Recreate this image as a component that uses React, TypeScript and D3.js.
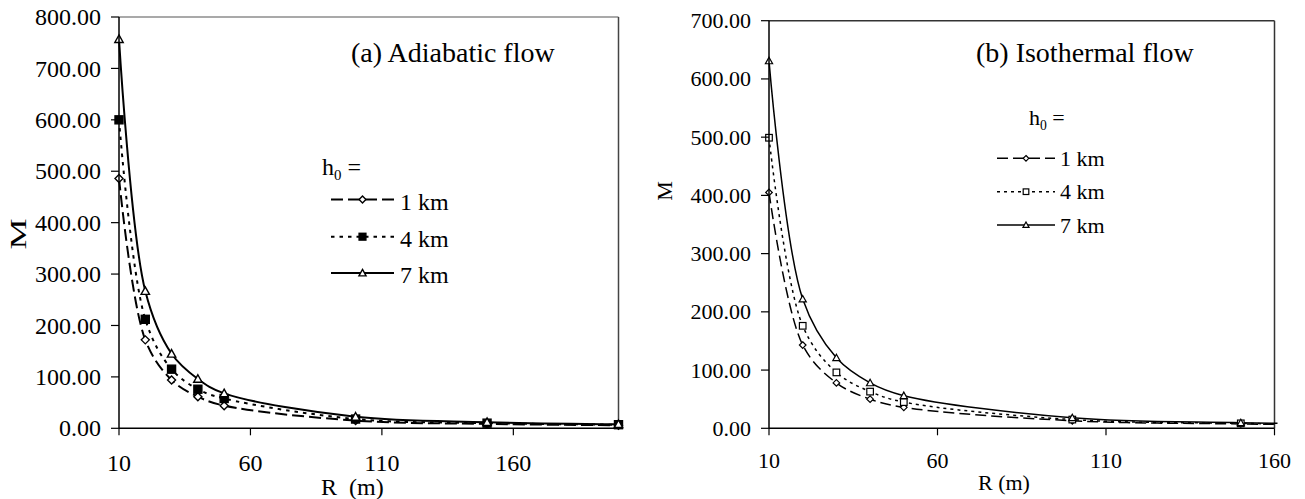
import React from 'react';
import * as d3 from 'd3';

// Radius values (m) at which M was evaluated
const radius = [10, 20, 30, 40, 50, 100, 150, 200];
const seriesLabels = ['1 km', '4 km', '7 km'];

// (a) Adiabatic flow
const adiabatic1km = [486, 172, 94, 61.5, 44, 15, 8.5, 6];
const adiabatic4km = [600, 212, 115, 76, 58, 18, 10, 7];
const adiabatic7km = [757, 267, 145, 96, 68, 22.5, 12, 8];

// (b) Isothermal flow
const isothermal1km = [405, 143, 78, 50, 36, 13, 7.5, 5];
const isothermal4km = [499, 176, 96, 63, 45, 15, 8.5, 5.5];
const isothermal7km = [631, 222, 121, 78, 56, 18, 9.5, 6];

const xTicks = [10, 60, 110, 160];
const adiabaticYTicks = [0, 100, 200, 300, 400, 500, 600, 700, 800];
const isothermalYTicks = [0, 100, 200, 300, 400, 500, 600, 700];

const FONT = "'Liberation Serif', 'Times New Roman', serif";
const fmt = d3.format('.2f');

type Shape = 'diamond' | 'square' | 'triangle';

function Marker({ shape, x, y, s, fill, sw }: { shape: Shape; x: number; y: number; s: number; fill: string; sw: number }) {
  if (shape === 'diamond') {
    return <polygon points={`${x},${y - s} ${x + s},${y} ${x},${y + s} ${x - s},${y}`} fill={fill} stroke="#000" strokeWidth={sw} />;
  }
  if (shape === 'square') {
    return <rect x={x - s} y={y - s} width={2 * s} height={2 * s} fill={fill} stroke="#000" strokeWidth={sw} />;
  }
  return <polygon points={`${x},${y - s} ${x + s},${y + s * 0.8} ${x - s},${y + s * 0.8}`} fill={fill} stroke="#000" strokeWidth={sw} />;
}

type SeriesStyle = { values: number[]; dash: string; shape: Shape; fill: string; size: number };

type PanelProps = {
  id: string;
  left: number; right: number; top: number; bottom: number;
  xMax: number; yMax: number; yTicks: number[];
  series: SeriesStyle[];
  tickFont: number; legendFont: number;
  title: string; titleX: number; titleY: number;
  yLabelX: number; yLabelY: number; yLabelStretch: number;
  xLabel: string; xLabelX: number; xLabelY: number;
  xTickY: number;
  legend: { hx: number; hy: number; lx0: number; lx1: number; tx: number; rows: number[]; baseOff: number };
  lineWidth: number; markerStroke: number;
  topBorder: string; rightBorder: string;
};

function Panel(p: PanelProps) {
  const x = d3.scaleLinear().domain([10, p.xMax]).range([p.left, p.right]);
  const y = d3.scaleLinear().domain([0, p.yMax]).range([p.bottom, p.top]);
  const line = d3.line<[number, number]>()
    .x(d => x(d[0]))
    .y(d => y(d[1]))
    .curve(d3.curveCatmullRom.alpha(0.5));
  const clipId = `clip-${p.id}`;
  const lx = (p.legend.lx0 + p.legend.lx1) / 2;
  return (
    <g fontFamily={FONT} fill="#000">
      <defs>
        <clipPath id={clipId}>
          <rect x={p.left - 10} y={p.top - 10} width={p.right - p.left + 13} height={p.bottom - p.top + 20} />
        </clipPath>
      </defs>
      {/* plot frame */}
      <line x1={p.left} x2={p.right} y1={p.top} y2={p.top} stroke={p.topBorder} strokeWidth={1.5} />
      <line x1={p.right} x2={p.right} y1={p.top} y2={p.bottom} stroke={p.rightBorder} strokeWidth={1.5} />
      {/* series */}
      <g clipPath={`url(#${clipId})`}>
        {p.series.map((s, i) => (
          <path key={i} d={line(radius.map((r, j) => [r, s.values[j]] as [number, number])) || ''}
            fill="none" stroke="#000" strokeWidth={p.lineWidth} strokeDasharray={s.dash} />
        ))}
      </g>
      {p.series.map((s, i) =>
        radius.map((r, j) => r <= p.xMax ? (
          <Marker key={`${i}-${j}`} shape={s.shape} x={x(r)} y={y(s.values[j])} s={s.size} fill={s.fill} sw={p.markerStroke} />
        ) : null)
      )}
      {/* axes */}
      <line x1={p.left} x2={p.left} y1={p.top} y2={p.bottom} stroke="#000" strokeWidth={1.5} />
      <line x1={p.left} x2={p.right} y1={p.bottom} y2={p.bottom} stroke="#000" strokeWidth={1.5} />
      {p.yTicks.map(t => (
        <g key={t}>
          <line x1={p.left - 8} x2={p.left} y1={y(t)} y2={y(t)} stroke="#000" strokeWidth={1.2} />
          <text x={p.left - 18} y={y(t)} dy="0.34em" textAnchor="end" fontSize={p.tickFont}>{fmt(t)}</text>
        </g>
      ))}
      {xTicks.filter(t => t <= p.xMax).map(t => (
        <g key={t}>
          <line x1={x(t)} x2={x(t)} y1={p.bottom} y2={p.bottom + 7} stroke="#000" strokeWidth={1.2} />
          <text x={x(t)} y={p.xTickY} textAnchor="middle" fontSize={p.tickFont}>{t}</text>
        </g>
      ))}
      {/* axis titles */}
      <text transform={`translate(${p.yLabelX},${p.yLabelY}) rotate(-90) scale(${p.yLabelStretch},1)`}
        textAnchor="middle" dy="0.35em" fontSize={p.tickFont}>M</text>
      <text x={p.xLabelX} y={p.xLabelY} fontSize={p.tickFont} style={{ whiteSpace: 'pre' }}>{p.xLabel}</text>
      {/* panel title */}
      <text x={p.titleX} y={p.titleY} fontSize={28}>{p.title}</text>
      {/* legend */}
      <text x={p.legend.hx} y={p.legend.hy} fontSize={p.legendFont}>
        h<tspan dy={5} fontSize={p.legendFont * 0.62}>0</tspan><tspan dy={-5}> =</tspan>
      </text>
      {p.series.map((s, i) => {
        const ry = p.legend.rows[i];
        return (
          <g key={i}>
            <line x1={p.legend.lx0} x2={p.legend.lx1} y1={ry} y2={ry} stroke="#000" strokeWidth={p.lineWidth} strokeDasharray={s.dash} />
            <Marker shape={s.shape} x={lx} y={ry} s={s.size * 0.85} fill={s.fill} sw={p.markerStroke} />
            <text x={p.legend.tx} y={ry + p.legend.baseOff} fontSize={p.legendFont}>{seriesLabels[i]}</text>
          </g>
        );
      })}
    </g>
  );
}

export default function App() {
  const adiabaticSeries: SeriesStyle[] = [
    { values: adiabatic1km, dash: '12,5', shape: 'diamond', fill: '#fff', size: 4 },
    { values: adiabatic4km, dash: '3.5,5', shape: 'square', fill: '#000', size: 4 },
    { values: adiabatic7km, dash: '', shape: 'triangle', fill: '#fff', size: 4.2 },
  ];
  const isothermalSeries: SeriesStyle[] = [
    { values: isothermal1km, dash: '11,5', shape: 'diamond', fill: '#fff', size: 3.3 },
    { values: isothermal4km, dash: '3,4', shape: 'square', fill: '#fff', size: 3.3 },
    { values: isothermal7km, dash: '', shape: 'triangle', fill: '#fff', size: 3.6 },
  ];
  return (
    <svg width={1305} height={499} style={{ position: 'absolute', left: 0, top: 0, background: '#fff' }}>
      <rect width={1305} height={499} fill="#fff" />
      <Panel
        id="a" left={119} right={618.5} top={17} bottom={428.3}
        xMax={200} yMax={800} yTicks={adiabaticYTicks}
        series={adiabaticSeries} tickFont={24} legendFont={24}
        title="(a) Adiabatic flow" titleX={351} titleY={62}
        yLabelX={18} yLabelY={234} yLabelStretch={1.45}
        xLabel="R  (m)" xLabelX={321} xLabelY={495} xTickY={471}
        legend={{ hx: 322, hy: 175, lx0: 331, lx1: 394, tx: 400, rows: [199.5, 236.7, 273], baseOff: 10 }}
        lineWidth={2} markerStroke={1.4}
        topBorder="#8c8c8c" rightBorder="#444"
      />
      <Panel
        id="b" left={769} right={1274.5} top={20.7} bottom={428.3}
        xMax={160} yMax={700} yTicks={isothermalYTicks}
        series={isothermalSeries} tickFont={22} legendFont={22}
        title="(b) Isothermal flow" titleX={976} titleY={62}
        yLabelX={664} yLabelY={191} yLabelStretch={1}
        xLabel="R (m)" xLabelX={978} xLabelY={490} xTickY={468}
        legend={{ hx: 1029, hy: 125, lx0: 997, lx1: 1055, tx: 1060, rows: [158.3, 191.7, 225], baseOff: 7.5 }}
        lineWidth={1.5} markerStroke={1.2}
        topBorder="#333" rightBorder="#333"
      />
    </svg>
  );
}
